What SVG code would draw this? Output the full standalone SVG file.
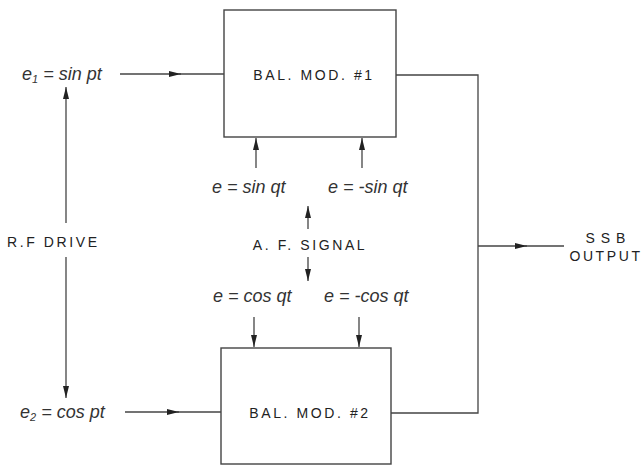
<svg xmlns="http://www.w3.org/2000/svg" width="644" height="475" viewBox="0 0 644 475">
<defs>
<marker id="ah" viewBox="0 0 12 6" refX="12" refY="3" markerWidth="12" markerHeight="6" markerUnits="userSpaceOnUse" orient="auto">
<path d="M0,0 L12,3 L0,6 Z" fill="#222"/>
</marker>
</defs>
<style>
.ln{stroke:#444;stroke-width:1.3;fill:none}
.box{stroke:#444;stroke-width:1.4;fill:#fff}
.lbl{font-family:"Liberation Sans",Arial,sans-serif;font-size:14px;letter-spacing:2.6px;fill:#222}
.mth{font-family:"Liberation Sans",Arial,sans-serif;font-size:18px;font-style:italic;fill:#333}
</style>
<rect width="644" height="475" fill="#fff"/>
<g id="mod1">
<rect class="box" x="224" y="10" width="172" height="127"/>
<text class="lbl" x="314" y="80" text-anchor="middle">BAL. MOD. #1</text>
</g>
<g id="mod2">
<rect class="box" x="221" y="348" width="170" height="116"/>
<text class="lbl" x="310" y="418" text-anchor="middle">BAL. MOD. #2</text>
</g>
<g id="e1"><text class="mth" x="22" y="80">e<tspan font-size="11" dy="3">1</tspan><tspan dy="-3"> = sin pt</tspan></text></g>
<g id="e2"><text class="mth" x="20" y="418">e<tspan font-size="11" dy="3">2</tspan><tspan dy="-3"> = cos pt</tspan></text></g>
<g id="rfdrive"><text class="lbl" x="7" y="247">R.F DRIVE</text></g>
<g id="afsignal"><text class="lbl" x="310" y="250" text-anchor="middle">A. F. SIGNAL</text></g>
<g id="sinq"><text class="mth" x="212" y="193">e = sin qt</text></g>
<g id="nsinq"><text class="mth" x="328" y="193">e = -sin qt</text></g>
<g id="cosq"><text class="mth" x="213" y="302">e = cos qt</text></g>
<g id="ncosq"><text class="mth" x="324" y="302">e = -cos qt</text></g>
<g id="ssb">
<text class="lbl" x="606" y="243" text-anchor="middle" style="letter-spacing:1px">S S B</text>
<text class="lbl" x="606" y="261" text-anchor="middle">OUTPUT</text>
</g>
<g id="connectors">
<line class="ln" x1="120" y1="74" x2="181" y2="74" marker-end="url(#ah)"/>
<line class="ln" x1="178" y1="74" x2="224" y2="74"/>
<line class="ln" x1="125" y1="412" x2="179" y2="412" marker-end="url(#ah)"/>
<line class="ln" x1="176" y1="412" x2="221" y2="412"/>
<line class="ln" x1="66" y1="223" x2="66" y2="87" marker-end="url(#ah)"/>
<line class="ln" x1="66" y1="257" x2="66" y2="398" marker-end="url(#ah)"/>
<line class="ln" x1="256" y1="168" x2="256" y2="138" marker-end="url(#ah)"/>
<line class="ln" x1="362" y1="168" x2="362" y2="138" marker-end="url(#ah)"/>
<line class="ln" x1="308" y1="229" x2="308" y2="206" marker-end="url(#ah)"/>
<line class="ln" x1="308" y1="257" x2="308" y2="281" marker-end="url(#ah)"/>
<line class="ln" x1="254" y1="317" x2="254" y2="347" marker-end="url(#ah)"/>
<line class="ln" x1="359" y1="317" x2="359" y2="347" marker-end="url(#ah)"/>
<polyline class="ln" points="396,75 478,75 478,413 391,413"/>
<line class="ln" x1="478" y1="246" x2="527" y2="246" marker-end="url(#ah)"/>
<line class="ln" x1="524" y1="246" x2="564" y2="246"/>
</g>
</svg>
